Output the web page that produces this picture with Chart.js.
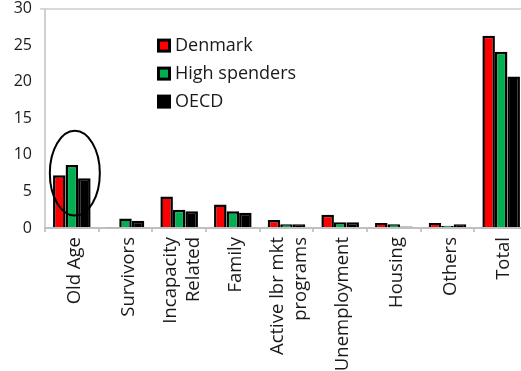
<!DOCTYPE html>
<html>
<head>
<meta charset="utf-8">
<script src="https://cdn.jsdelivr.net/npm/chart.js@4/dist/chart.umd.min.js"></script>
<style>
  html, body { margin: 0; padding: 0; background: #fff; overflow: hidden; }
  #wrap { width: 530px; height: 380px; position: relative; margin-top: -9px; }
</style>
</head>
<body>
<div id="wrap"><canvas id="SpendChart"></canvas></div>
<script>
const categories = [
    'Old Age',
    'Survivors',
    ['Incapacity', 'Related'],
    'Family',
    ['Active lbr mkt', 'programs'],
    'Unemployment',
    'Housing',
    'Others',
    'Total'
];

const denmark      = [7.2, 0.1, 4.3, 3.2, 1.1, 1.8, 0.7, 0.7, 26.3];
const highSpenders = [8.6, 1.3, 2.5, 2.3, 0.5, 0.8, 0.5, 0.3, 24.1];
const oecd         = [6.8, 1.0, 2.3, 2.1, 0.5, 0.8, 0.2, 0.5, 20.7];

const yTicks = [0, 5, 10, 15, 20, 25, 30];

const FONT = '"Open Sans", sans-serif';
const TEXT = '#1a1a1a';

// legend drawn inside the plot, upper left of centre
const insideLegend = {
    id: 'insideLegend',
    afterDraw(chart) {
        const ctx = chart.ctx;
        const area = chart.chartArea;
        const x0 = area.left + 112;
        let y0 = area.top + 37;
        ctx.save();
        ctx.font = '18px ' + FONT;
        ctx.textBaseline = 'middle';
        chart.data.datasets.forEach(ds => {
            ctx.fillStyle = '#000';
            ctx.fillRect(x0, y0 - 7, 14, 14);
            ctx.fillStyle = ds.backgroundColor;
            ctx.fillRect(x0 + 3, y0 - 4, 8, 8);
            ctx.fillStyle = TEXT;
            ctx.fillText(ds.label, x0 + 18, y0);
            y0 += 28;
        });
        ctx.restore();
    }
};

// vertical category labels, lines side by side and centred on each group
const verticalLabels = {
    id: 'verticalLabels',
    afterDraw(chart) {
        const ctx = chart.ctx;
        const xs = chart.scales.x;
        const top = chart.chartArea.bottom + 9;
        const lineGap = 23;
        ctx.save();
        ctx.font = '18.5px ' + FONT;
        ctx.fillStyle = TEXT;
        ctx.textAlign = 'right';
        ctx.textBaseline = 'middle';
        chart.data.labels.forEach((lab, i) => {
            const lines = Array.isArray(lab) ? lab : [lab];
            const cx = xs.getPixelForValue(i) + 3;
            lines.forEach((line, j) => {
                ctx.save();
                ctx.translate(cx + (j - (lines.length - 1) / 2) * lineGap, top);
                ctx.rotate(-Math.PI / 2);
                ctx.fillText(line, 0, 0);
                ctx.restore();
            });
        });
        ctx.restore();
    }
};

// ellipse highlighting the Old Age group
const oldAgeRing = {
    id: 'oldAgeRing',
    afterDatasetsDraw(chart) {
        const ctx = chart.ctx;
        const cx = chart.scales.x.getPixelForValue(0) + 3;
        const cy = chart.scales.y.getPixelForValue(7.5);
        const ry = chart.scales.y.getPixelForValue(0) - chart.scales.y.getPixelForValue(5.8);
        ctx.save();
        ctx.strokeStyle = '#000';
        ctx.lineWidth = 2;
        ctx.beginPath();
        ctx.ellipse(cx, cy, 25, ry, 0, 0, Math.PI * 2);
        ctx.stroke();
        ctx.restore();
    }
};

const config_Spend = {
    type: 'bar',
    data: {
        labels: categories,
        datasets: [
            { label: 'Denmark', data: denmark, backgroundColor: '#ff0000' },
            { label: 'High spenders', data: highSpenders, backgroundColor: '#00b050' },
            { label: 'OECD', data: oecd, backgroundColor: '#000000' }
        ].map(ds => Object.assign(ds, {
            borderColor: '#000',
            borderWidth: 2.5,
            borderSkipped: 'bottom',
            categoryPercentage: 0.7,
            barPercentage: 1.0
        }))
    },
    options: {
        responsive: true,
        maintainAspectRatio: false,
        animation: false,
        layout: { padding: { top: 8, right: 2, left: 0, bottom: 0 } },
        scales: {
            y: {
                min: 0,
                max: 30,
                afterBuildTicks: scale => { scale.ticks = yTicks.map(v => ({ value: v })); },
                afterFit: scale => { scale.width = 45; },
                border: { color: '#d0d0d0', width: 2 },
                grid: {
                    drawOnChartArea: true,
                    tickLength: 5,
                    color: ctx => ctx.tick && ctx.tick.value === 30 ? '#d9d9d9' : 'rgba(0,0,0,0)',
                    lineWidth: 2
                },
                ticks: {
                    color: TEXT,
                    font: { family: FONT, size: 16 },
                    padding: 8
                }
            },
            x: {
                afterFit: scale => { scale.height = 143; },
                border: { color: '#bfbfbf', width: 2 },
                grid: {
                    offset: true,
                    drawOnChartArea: false,
                    tickLength: 4,
                    color: '#c8c8c8',
                    lineWidth: 2
                },
                ticks: { display: false }
            }
        },
        plugins: {
            legend: { display: false },
            tooltip: { enabled: false }
        }
    },
    plugins: [insideLegend, oldAgeRing, verticalLabels]
};

const myChart_Spend = new Chart(
    document.getElementById('SpendChart'),
    config_Spend
);
</script>
</body>
</html>
